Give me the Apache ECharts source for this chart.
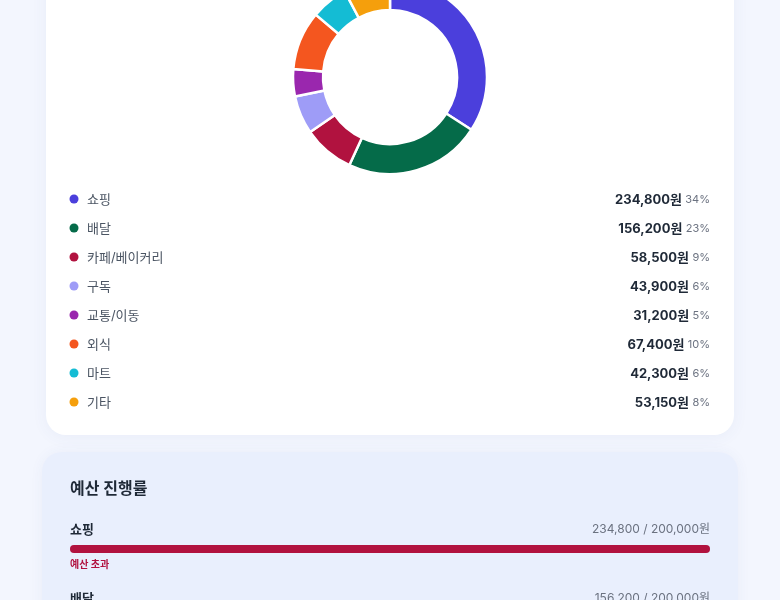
<!DOCTYPE html>
<html>
<head>
<meta charset="utf-8">
<script src="https://cdn.jsdelivr.net/npm/echarts@6/dist/echarts.min.js"></script>
<style>
    html, body { margin: 0; padding: 0; background: #f3f6fe; }
    #root { width: 780px; height: 600px; }
</style>
</head>
<body>
<div id="root"></div>
<script>
(function () {
    'use strict';

    // spending by category
    var categories = ['쇼핑', '배달', '카페/베이커리', '구독', '교통/이동', '외식', '마트', '기타'];
    var amounts = [234800, 156200, 58500, 43900, 31200, 67400, 42300, 53150];
    var colors = ['#4b3fdc', '#056b49', '#b1123f', '#9e9cf7', '#9a27ae', '#f4561f', '#14bcd4', '#f59f0c'];

    // budget progress
    var budgetCats = ['쇼핑', '배달'];
    var budgetSpent = [234800, 156200];
    var budgetLimit = [200000, 200000];

    var FONT = 'Inter, "Noto Sans CJK KR", sans-serif';
    var won = function (v) { return v.toLocaleString('en-US'); };

    var total = amounts.reduce(function (a, b) { return a + b; }, 0);
    var pieData = [];
    for (var i = 0; i < categories.length; i++) {
        pieData.push({ name: categories[i], value: amounts[i], itemStyle: { color: colors[i] } });
    }

    var graphics = [
        {
            type: 'rect', z: 0,
            shape: { x: 46, y: -60, width: 688, height: 495, r: 20 },
            style: { fill: '#ffffff', shadowBlur: 16, shadowColor: 'rgba(60,80,160,0.06)', shadowOffsetY: 2 }
        },
        {
            type: 'rect', z: 0,
            shape: { x: 42, y: 452, width: 696, height: 300, r: 20 },
            style: { fill: '#e9effd', shadowBlur: 14, shadowColor: 'rgba(60,80,160,0.05)' }
        },
        {
            type: 'text', z: 5, x: 70, y: 489,
            style: { text: '예산 진행률', font: 'bold 16px ' + FONT, fill: '#1f2937', verticalAlign: 'middle' }
        }
    ];

    // legend rows
    for (var j = 0; j < categories.length; j++) {
        var y = 200 + j * 29;
        graphics.push({
            type: 'circle', z: 5,
            shape: { cx: 74, cy: y - 1, r: 4.5 },
            style: { fill: colors[j] }
        });
        graphics.push({
            type: 'text', z: 5, x: 87, y: y,
            style: { text: categories[j], font: '13px ' + FONT, fill: '#4b5563', verticalAlign: 'middle' }
        });
        graphics.push({
            type: 'text', z: 5, x: 710, y: y,
            style: {
                text: '{v|' + won(amounts[j]) + '원} {p|' + Math.round(amounts[j] / total * 100) + '%}',
                align: 'right', verticalAlign: 'middle',
                rich: {
                    v: { font: 'bold 13px ' + FONT, fill: '#1f2937' },
                    p: { font: '11px ' + FONT, fill: '#6b7280' }
                }
            }
        });
    }

    // budget rows
    var grids = [], xAxes = [], yAxes = [], series = [];
    for (var k = 0; k < budgetCats.length; k++) {
        var top = 530 + k * 69;
        var over = budgetSpent[k] > budgetLimit[k];
        graphics.push({
            type: 'text', z: 5, x: 70, y: top,
            style: { text: budgetCats[k], font: 'bold 13px ' + FONT, fill: '#1f2937', verticalAlign: 'middle' }
        });
        graphics.push({
            type: 'text', z: 5, x: 710, y: top - 1,
            style: {
                text: won(budgetSpent[k]) + ' / ' + won(budgetLimit[k]) + '원',
                font: '12px ' + FONT, fill: '#6b7280', align: 'right', verticalAlign: 'middle'
            }
        });
        if (over) {
            graphics.push({
                type: 'text', z: 5, x: 70, y: top + 35,
                style: { text: '예산 초과', font: 'bold 10px ' + FONT, fill: '#b1123f', verticalAlign: 'middle' }
            });
        }
        grids.push({ left: 70, right: 70, top: top + 15, height: 8 });
        xAxes.push({ type: 'value', gridIndex: k, min: 0, max: 1, show: false });
        yAxes.push({ type: 'category', gridIndex: k, data: [budgetCats[k]], show: false });
        series.push({
            type: 'bar',
            xAxisIndex: k,
            yAxisIndex: k,
            barWidth: 8,
            silent: true,
            showBackground: true,
            backgroundStyle: { color: '#d6def5', borderRadius: 4 },
            itemStyle: { color: over ? '#b1123f' : '#4b3fdc', borderRadius: 4 },
            data: [Math.min(budgetSpent[k] / budgetLimit[k], 1)]
        });
    }

    series.unshift({
        type: 'pie',
        center: [390, 77],
        radius: [67, 97],
        startAngle: 90,
        clockwise: true,
        silent: true,
        label: { show: false },
        labelLine: { show: false },
        itemStyle: { borderColor: '#ffffff', borderWidth: 2.5 },
        z: 3,
        data: pieData
    });

    var myChart = echarts.init(document.getElementById('root'), null, { renderer: 'canvas' });
    myChart.setOption({
        backgroundColor: '#f3f6fe',
        animation: false,
        graphic: { elements: graphics },
        grid: grids,
        xAxis: xAxes,
        yAxis: yAxes,
        series: series
    });
}());
</script>
</body>
</html>
